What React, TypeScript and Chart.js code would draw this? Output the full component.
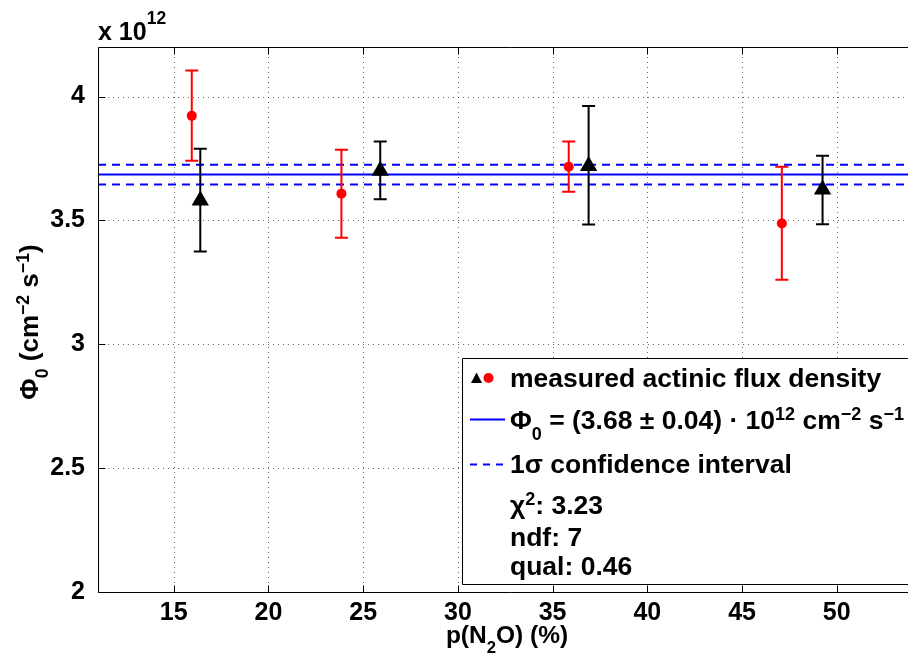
import { useEffect, useRef } from 'react';
import { Chart, registerables } from 'chart.js';

Chart.register(...registerables);

// ---------------- data ----------------
const X_TICKS = [15, 20, 25, 30, 35, 40, 45, 50];
const Y_TICKS = [2, 2.5, 3, 3.5, 4];
const X_MIN = 11;
const X_MAX = 54.5;
const Y_MIN = 2;
const Y_MAX = 4.2;

const RED_X = [15.95, 23.85, 35.85, 47.1];
const RED_Y = [3.922, 3.608, 3.717, 3.488];
const RED_HI = [4.105, 3.785, 3.819, 3.717];
const RED_LO = [3.741, 3.43, 3.616, 3.26];

const BLACK_X = [16.4, 25.9, 36.9, 49.25];
const BLACK_Y = [3.58, 3.7, 3.72, 3.625];
const BLACK_HI = [3.789, 3.819, 3.962, 3.761];
const BLACK_LO = [3.374, 3.585, 3.483, 3.485];

const FIT = 3.685;
const FIT_ERR = 0.04;

// rich text: [text, kind] kind 0 normal, 1 subscript, 2 superscript
type Seg = [string, number];
const LEGEND_ROWS: Seg[][] = [
  [['measured actinic flux density', 0]],
  [['Φ', 0], ['0', 1], [' = (3.68 ± 0.04) · 10', 0], ['12', 2], [' cm', 0], ['−2', 2], [' s', 0], ['−1', 2]],
  [['1σ confidence interval', 0]],
  [['χ', 0], ['2', 2], [': 3.23', 0]],
  [['ndf: 7', 0]],
  [['qual: 0.46', 0]],
];
const Y_TITLE: Seg[] = [['Φ', 0], ['0', 1], [' (cm', 0], ['−2', 2], [' s', 0], ['−1', 2], [')', 0]];
const X_TITLE: Seg[] = [['p(N', 0], ['2', 1], ['O) (%)', 0]];
const SCALE_LABEL: Seg[] = [['x 10', 0], ['12', 2]];

// ---------------- helpers ----------------
const FAM = "'Liberation Sans', Arial, sans-serif";
const font = (s: number) => `bold ${s}px ${FAM}`;

function richWidth(ctx: CanvasRenderingContext2D, segs: Seg[], size: number, small: number) {
  let w = 0;
  for (const [t, k] of segs) {
    ctx.font = font(k === 0 ? size : size * small);
    w += ctx.measureText(t).width;
  }
  return w;
}

function drawRich(
  ctx: CanvasRenderingContext2D,
  x: number,
  y: number,
  segs: Seg[],
  size: number,
  align: 'left' | 'center' = 'left',
  supRaise = 0.33,
  small = 0.68,
) {
  let cx = align === 'center' ? x - richWidth(ctx, segs, size, small) / 2 : x;
  ctx.textAlign = 'left';
  ctx.textBaseline = 'alphabetic';
  for (const [t, k] of segs) {
    const s = k === 0 ? size : size * small;
    ctx.font = font(s);
    const dy = k === 1 ? size * 0.42 : k === 2 ? -size * supRaise : 0;
    ctx.fillText(t, cx, y + dy);
    cx += ctx.measureText(t).width;
  }
}

const framePlugin = {
  id: 'frame',
  beforeDatasetsDraw(chart: any) {
    const { ctx, chartArea: a, scales } = chart;
    ctx.save();
    ctx.strokeStyle = 'rgba(0,0,0,0.6)';
    ctx.lineWidth = 1;
    ctx.setLineDash([1, 4]);
    for (const v of X_TICKS) {
      const px = Math.round(scales.x.getPixelForValue(v)) + 0.5;
      ctx.beginPath();
      ctx.moveTo(px, a.top);
      ctx.lineTo(px, a.bottom);
      ctx.stroke();
    }
    for (const v of Y_TICKS) {
      const py = Math.round(scales.y.getPixelForValue(v)) + 0.5;
      ctx.beginPath();
      ctx.moveTo(a.left, py);
      ctx.lineTo(a.right, py);
      ctx.stroke();
    }
    ctx.restore();
  },
  beforeDatasetDraw(chart: any, args: any) {
    const ds = chart.data.datasets[args.index];
    if (!ds.errHi) return;
    const { ctx, scales } = chart;
    ctx.save();
    ctx.strokeStyle = ds.backgroundColor;
    ctx.lineWidth = 2;
    ctx.setLineDash([]);
    ds.data.forEach((p: any, i: number) => {
      const px = scales.x.getPixelForValue(p.x);
      const hi = scales.y.getPixelForValue(ds.errHi[i]);
      const lo = scales.y.getPixelForValue(ds.errLo[i]);
      ctx.beginPath();
      ctx.moveTo(px, hi);
      ctx.lineTo(px, lo);
      ctx.moveTo(px - 6.5, hi);
      ctx.lineTo(px + 6.5, hi);
      ctx.moveTo(px - 6.5, lo);
      ctx.lineTo(px + 6.5, lo);
      ctx.stroke();
    });
    ctx.restore();
  },
  afterDatasetsDraw(chart: any) {
    const { ctx, chartArea: a } = chart;
    ctx.save();
    // legend box (its right edge lies beyond the visible window)
    const L = 462.5, T = 358.5, B = 584.5, R = a.right - 9;
    ctx.fillStyle = '#fff';
    ctx.fillRect(L, T, R - L, B - T);
    ctx.strokeStyle = '#000';
    ctx.lineWidth = 1;
    ctx.beginPath();
    ctx.moveTo(R, T);
    ctx.lineTo(L, T);
    ctx.lineTo(L, B);
    ctx.lineTo(R, B);
    ctx.stroke();
    // markers
    ctx.fillStyle = '#000';
    ctx.beginPath();
    ctx.moveTo(476.5, 372.5);
    ctx.lineTo(482, 383);
    ctx.lineTo(471, 383);
    ctx.closePath();
    ctx.fill();
    ctx.fillStyle = '#ff0000';
    ctx.beginPath();
    ctx.arc(488.5, 378, 5, 0, Math.PI * 2);
    ctx.fill();
    ctx.strokeStyle = '#0000ff';
    ctx.lineWidth = 2;
    ctx.beginPath();
    ctx.moveTo(470, 419.5);
    ctx.lineTo(505, 419.5);
    ctx.stroke();
    ctx.setLineDash([7, 6]);
    ctx.beginPath();
    ctx.moveTo(470, 464.5);
    ctx.lineTo(505, 464.5);
    ctx.stroke();
    ctx.setLineDash([]);
    // legend text
    ctx.fillStyle = '#000';
    const baselines = [386.5, 428.5, 472.5, 513.5, 545.5, 575];
    LEGEND_ROWS.forEach((row, i) => drawRich(ctx, 510, baselines[i], row, 26.5));
    ctx.restore();
  },
  afterDraw(chart: any) {
    const { ctx, chartArea: a, scales } = chart;
    ctx.save();
    ctx.strokeStyle = '#000';
    ctx.lineWidth = 1;
    ctx.setLineDash([]);
    const l = Math.round(a.left) + 0.5, t = Math.round(a.top) + 0.5, b = Math.round(a.bottom) + 0.5, r = a.right;
    ctx.beginPath();
    ctx.moveTo(r, t);
    ctx.lineTo(l, t);
    ctx.lineTo(l, b);
    ctx.lineTo(r, b);
    ctx.stroke();
    // inward ticks
    ctx.beginPath();
    for (const v of X_TICKS) {
      const px = Math.round(scales.x.getPixelForValue(v)) + 0.5;
      ctx.moveTo(px, b);
      ctx.lineTo(px, b - 7);
      ctx.moveTo(px, t);
      ctx.lineTo(px, t + 7);
    }
    for (const v of Y_TICKS) {
      const py = Math.round(scales.y.getPixelForValue(v)) + 0.5;
      ctx.moveTo(l, py);
      ctx.lineTo(l + 7, py);
    }
    ctx.stroke();
    // titles
    ctx.fillStyle = '#000';
    drawRich(ctx, 507, 643, X_TITLE, 24.5, 'center');
    drawRich(ctx, 98, 40, SCALE_LABEL, 25, 'left', 0.66, 0.7);
    ctx.translate(37.5, 322);
    ctx.rotate(-Math.PI / 2);
    drawRich(ctx, 0, 0, Y_TITLE, 26, 'center');
    ctx.restore();
  },
};

export default function App() {
  const ref = useRef<HTMLCanvasElement>(null);
  useEffect(() => {
    if (!ref.current) return;
    const tickFont = { family: FAM, size: 25, weight: 'bold' as const };
    const chart = new Chart(ref.current, {
      type: 'scatter',
      data: {
        datasets: [
          {
            label: 'fit',
            data: [{ x: X_MIN, y: FIT }, { x: X_MAX, y: FIT }],
            showLine: true,
            borderColor: '#0000ff',
            borderWidth: 2,
            pointRadius: 0,
            order: 5,
          },
          {
            label: 'upper',
            data: [{ x: X_MIN, y: FIT + FIT_ERR }, { x: X_MAX, y: FIT + FIT_ERR }],
            showLine: true,
            borderColor: '#0000ff',
            borderWidth: 2,
            borderDash: [8, 6],
            pointRadius: 0,
            order: 5,
          },
          {
            label: 'lower',
            data: [{ x: X_MIN, y: FIT - FIT_ERR }, { x: X_MAX, y: FIT - FIT_ERR }],
            showLine: true,
            borderColor: '#0000ff',
            borderWidth: 2,
            borderDash: [8, 6],
            pointRadius: 0,
            order: 5,
          },
          {
            label: 'red',
            data: RED_X.map((x, i) => ({ x, y: RED_Y[i] })),
            backgroundColor: '#ff0000',
            borderWidth: 0,
            pointRadius: 5,
            pointStyle: 'circle',
            order: 2,
            errHi: RED_HI,
            errLo: RED_LO,
          } as any,
          {
            label: 'black',
            data: BLACK_X.map((x, i) => ({ x, y: BLACK_Y[i] })),
            backgroundColor: '#000000',
            borderWidth: 0,
            pointRadius: 10,
            pointStyle: 'triangle',
            order: 1,
            errHi: BLACK_HI,
            errLo: BLACK_LO,
          } as any,
        ],
      },
      options: {
        responsive: false,
        animation: false,
        devicePixelRatio: 1,
        layout: { padding: { left: 0, top: 47, right: 30, bottom: 0 } },
        plugins: { legend: { display: false }, tooltip: { enabled: false } },
        scales: {
          x: {
            type: 'linear',
            min: X_MIN,
            max: X_MAX,
            afterBuildTicks: (s: any) => {
              s.ticks = X_TICKS.map((v) => ({ value: v }));
            },
            afterFit: (s: any) => {
              s.height = 61;
            },
            grid: { display: false },
            border: { display: false },
            ticks: { font: tickFont, color: '#000', padding: -2, autoSkip: false, maxRotation: 0, callback: (v: any) => String(v) },
          },
          y: {
            type: 'linear',
            min: Y_MIN,
            max: Y_MAX,
            afterBuildTicks: (s: any) => {
              s.ticks = Y_TICKS.map((v) => ({ value: v }));
            },
            afterFit: (s: any) => {
              s.width = 98;
            },
            grid: { display: false },
            border: { display: false },
            ticks: { font: tickFont, color: '#000', padding: 5, autoSkip: false, callback: (v: any) => String(v) },
          },
        },
      },
      plugins: [framePlugin],
    });
    return () => chart.destroy();
  }, []);
  return (
    <div style={{ position: 'fixed', left: 0, top: 0, width: 908, height: 653, overflow: 'hidden', background: '#fff' }}>
      <canvas ref={ref} width={952} height={653} style={{ display: 'block', width: 952, height: 653 }} />
    </div>
  );
}
